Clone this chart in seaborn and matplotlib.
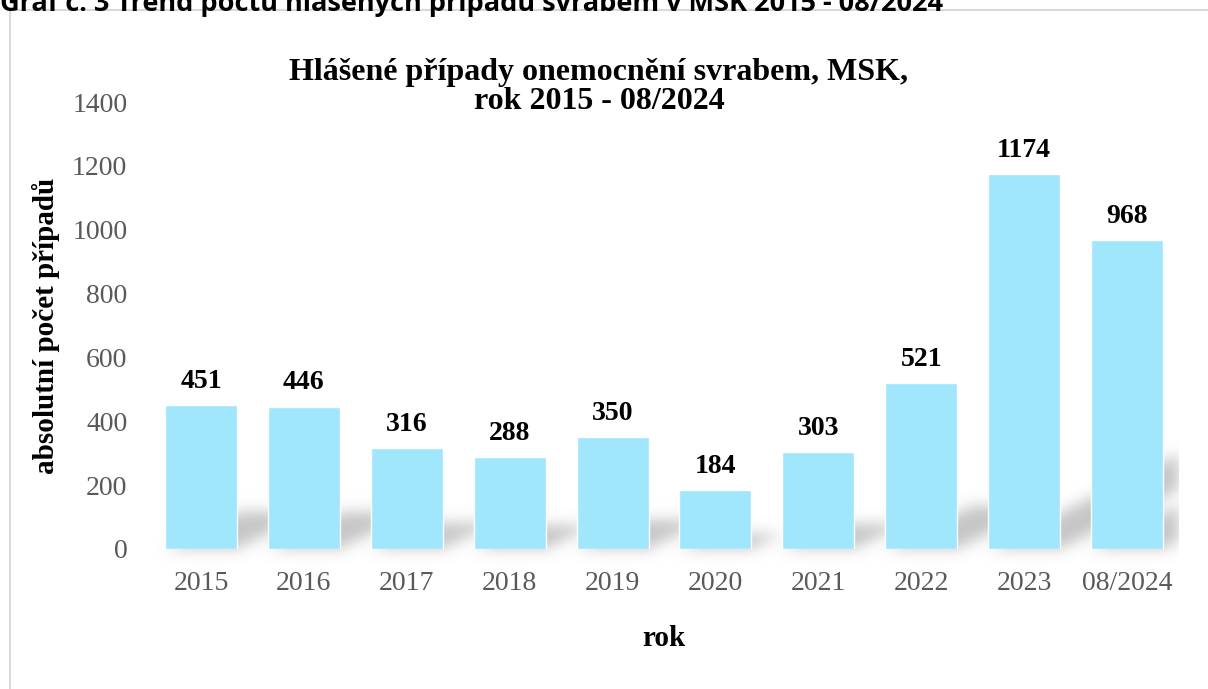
import matplotlib
matplotlib.use("Agg")
import numpy as np
import matplotlib.pyplot as plt
import seaborn as sns
import pandas as pd
from matplotlib.patches import Rectangle, Polygon
from matplotlib.collections import PatchCollection

categories = ["2015", "2016", "2017", "2018", "2019", "2020", "2021", "2022", "2023", "08/2024"]
values = [451, 446, 316, 288, 350, 184, 303, 521, 1174, 968]
yticks = [0, 200, 400, 600, 800, 1000, 1200, 1400]

sns.set_theme(style="white")
plt.rcParams['font.family'] = ['Liberation Serif', 'DejaVu Serif']

W, H = 1208, 689
fig = plt.figure(figsize=(W / 100, H / 100), dpi=100)
ax = fig.add_axes([149.5 / W, 1 - 549 / H, (1178.5 - 149.5) / W, (549 - 102) / H])

df = pd.DataFrame({"rok": categories, "pocet": values})
bar_width = 0.7
sns.barplot(data=df, x="rok", y="pocet", color="#A0E6FD", saturation=1, width=bar_width, ax=ax, zorder=3)

ax.set_ylim(0, 1400)
ax.set_xlim(-0.5, len(categories) - 0.5)


# soft slanted shadow cast by the bars (decorative), blurred with an agg filter
SHADOW_GRAY = 0.78


def gauss_blur(im, dpi):
    sigma = 7
    pad = 3 * sigma
    alpha = np.pad(im[:, :, 3], [(pad, pad), (pad, pad)], "constant")
    k = np.exp(-0.5 * (np.arange(-pad, pad + 1) / sigma) ** 2)
    k /= k.sum()
    alpha = np.apply_along_axis(lambda m: np.convolve(m, k, mode="same"), 0, alpha)
    alpha = np.apply_along_axis(lambda m: np.convolve(m, k, mode="same"), 1, alpha)
    out = np.empty(alpha.shape + (4,))
    out[:, :, 0:3] = SHADOW_GRAY
    out[:, :, 3] = np.clip(alpha, 0, 1)
    return out, -pad, -pad


px_per_unit_x = (1178.5 - 149.5) / len(categories)
px_per_unit_y = (549 - 102) / 1400
shadows = []
for i, v in enumerate(values):
    x0, x1 = i - bar_width / 2, i + bar_width / 2
    dy = 0.26 * v
    dx = 2.0 * dy * px_per_unit_y / px_per_unit_x
    shadows.append(Polygon([(x0, 0), (x1, 0), (x1 + dx, dy), (x0 + dx, dy)], closed=True))
pc = PatchCollection(shadows, facecolor="black", edgecolor="none", zorder=1)
pc.set_agg_filter(gauss_blur)
ax.add_collection(pc)
# hide the blurred spill past the right end of the plot area
ax.add_patch(Rectangle((1.0, -0.05), 0.1, 0.6, transform=ax.transAxes, facecolor="white",
                       edgecolor="none", clip_on=False, zorder=2))

ax.set_yticks(yticks)
ax.set_yticklabels([str(t) for t in yticks], fontsize=20, color="#595959")
ax.set_xticks(range(len(categories)))
ax.set_xticklabels(categories, fontsize=20, color="#595959")
ax.tick_params(axis="both", length=0)
ax.tick_params(axis="y", pad=16)
ax.tick_params(axis="x", pad=16)
for s in ax.spines.values():
    s.set_visible(False)

for i, v in enumerate(values):
    ax.annotate(str(v), (i, v), xytext=(0, 8), textcoords="offset points",
                ha="center", va="bottom", fontsize=20, fontweight="bold", color="black", zorder=4)

ax.set_xlabel("rok", fontsize=21, fontweight="bold", color="black", labelpad=21)
ax.set_ylabel("absolutní počet případů", fontsize=21, fontweight="bold", color="black", labelpad=9)

fig.text(599 / W, 1 - 87 / H, "Hlášené případy onemocnění svrabem, MSK,\nrok 2015 - 08/2024",
         ha="center", va="center", fontsize=23, fontweight="bold", color="black", linespacing=1.0)

# outer frame
fig.patches.append(Rectangle((10 / W, -0.01), 1.0, 1 - 10 / H + 0.01, transform=fig.transFigure,
                             fill=False, edgecolor="#D9D9D9", linewidth=1.5))

# caption cut off at the top edge, as in the source
fig.text(0.0, 1 - 11 / H, "Graf č. 3 Trend počtu hlášených případů svrabem v MSK 2015 - 08/2024",
         ha="left", va="baseline", fontsize=19.5, fontweight="bold", color="black",
         family=["Open Sans", "DejaVu Sans"])

fig.savefig("out.png", dpi=100)
